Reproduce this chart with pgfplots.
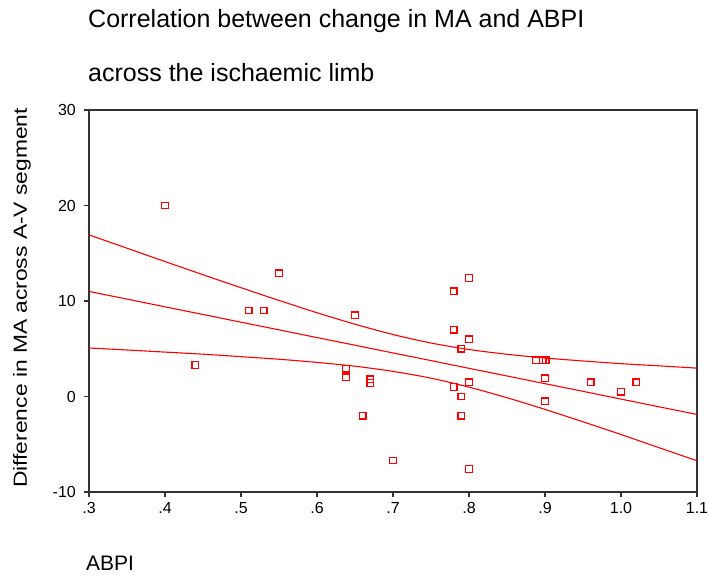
\documentclass[border=0pt]{standalone}
\usepackage{fontspec}
\setmainfont{Liberation Sans}
\newfontfamily\ylabfont{Liberation Sans}[FakeStretch=1.2]
\usepackage{pgfplots}
\usepackage{pgfplotstable}
\pgfplotsset{compat=1.18}
\pgfplotstableread{
x y
0.40 20.0
0.44 3.3
0.51 9.0
0.53 9.0
0.55 12.9
0.638 2.9
0.638 2.0
0.65 8.5
0.66 -2.0
0.67 1.8
0.67 1.4
0.70 -6.7
0.78 11.0
0.78 7.0
0.78 1.0
0.79 5.0
0.79 0.0
0.79 -2.0
0.80 12.4
0.80 6.0
0.80 1.5
0.80 -7.6
0.888 3.8
0.897 3.8
0.901 3.8
0.90 1.9
0.90 -0.5
0.96 1.5
1.00 0.5
1.02 1.5
}\points
\pgfplotstableread{
x fit upper lower
0.30 11.00 16.92 5.08
0.35 10.20 15.53 4.87
0.40 9.39 14.13 4.65
0.45 8.59 12.75 4.43
0.50 7.78 11.39 4.17
0.55 6.98 10.06 3.90
0.60 6.17 8.77 3.57
0.65 5.37 7.57 3.17
0.70 4.56 6.49 2.63
0.75 3.76 5.60 1.92
0.80 2.95 4.92 0.98
0.85 2.15 4.42 -0.13
0.90 1.34 4.03 -1.35
0.95 0.54 3.72 -2.65
1.00 -0.27 3.44 -3.98
1.05 -1.08 3.21 -5.36
1.10 -1.88 2.97 -6.73
}\bands
\begin{document}
\begin{tikzpicture}
\path[use as bounding box] (0pt,0pt) rectangle (709pt,580pt);
\begin{axis}[
  at={(89pt,88pt)}, anchor=south west,
  scale only axis, width=608pt, height=382pt,
  xmin=0.3, xmax=1.1, ymin=-10, ymax=30,
  xtick={0.3,0.4,0.5,0.6,0.7,0.8,0.9,1.0,1.1},
  xticklabels={.3,.4,.5,.6,.7,.8,.9,1.0,1.1},
  ytick={-10,0,10,20,30},
  yticklabels={-10,0,10,20,30},
  tick align=outside, xtick pos=lower, ytick pos=left,
  major tick length=5pt,
  axis line style={draw=black!80, line width=1.4pt},
  tick style={black!80, line width=1.2pt},
  tick label style={font=\fontsize{16}{19}\selectfont, text=black},
  xticklabel style={inner sep=1pt, yshift=-4pt},
  yticklabel style={inner sep=1pt, xshift=-7pt},
  /pgf/number format/assume math mode=true,
]
\addplot[red, line width=1.1pt] table[x=x, y=fit] {\bands};
\addplot[red, line width=1.1pt, smooth] table[x=x, y=upper] {\bands};
\addplot[red, line width=1.1pt, smooth] table[x=x, y=lower] {\bands};
\addplot[only marks, mark=square, mark size=3.3pt, red, mark options={line width=1.3pt}] table[x=x, y=y] {\points};
\end{axis}
\node[anchor=base west, font=\fontsize{25}{30}\selectfont, inner sep=0pt] at (88pt,552.3pt) {Correlation between change in MA and ABPI};
\node[anchor=base west, font=\fontsize{25}{30}\selectfont, inner sep=0pt] at (88pt,498.3pt) {across the ischaemic limb};
\node[anchor=base west, font=\fontsize{21}{25}\selectfont, inner sep=0pt] at (86pt,9.3pt) {ABPI};
\node[rotate=90, anchor=base west, font=\ylabfont\fontsize{19}{23}\selectfont, inner sep=0pt] at (27pt,92pt) {Difference in MA across A-V segment};
\end{tikzpicture}
\end{document}
